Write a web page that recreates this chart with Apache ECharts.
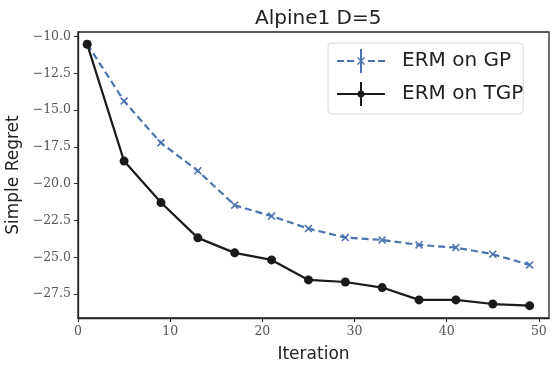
<!DOCTYPE html>
<html>
<head>
<meta charset="utf-8">
<script src="https://cdn.jsdelivr.net/npm/echarts@6/dist/echarts.min.js"></script>
<style>
  html, body { margin: 0; padding: 0; background: #fff; }
  #chart { width: 557px; height: 372px; }
</style>
</head>
<body>
<div id="chart"></div>
<script>
// data
var iterations = [1, 5, 9, 13, 17, 21, 25, 29, 33, 37, 41, 45, 49];
var ermGP = [-10.5, -14.38, -17.22, -19.12, -21.46, -22.2, -23.05, -23.66, -23.82, -24.16, -24.34, -24.79, -25.52];
var ermTGP = [-10.52, -18.46, -21.28, -23.68, -24.7, -25.18, -26.54, -26.68, -27.06, -27.9, -27.9, -28.18, -28.29];
var xTicks = [0, 10, 20, 30, 40, 50];
var yTicks = [-27.5, -25, -22.5, -20, -17.5, -15, -12.5, -10];

var blue = '#4c72b0';
var dark = '#1a1a1a';
var serif = '"DejaVu Serif", "Liberation Serif", serif';
var sans = '"DejaVu Sans", sans-serif';

function pairs(xs, ys) {
    return xs.map(function (x, i) { return [x, ys[i]]; });
}
function minus(s) { return String(s).replace('-', '\u2212'); }

var xSymbol = 'path://M0,1.4 L1.4,0 L10,8.6 L8.6,10 Z M8.6,0 L10,1.4 L1.4,10 L0,8.6 Z';
// legend icons: line + errorbar tick + marker
var gpIcon = 'path://M0,11 L7,11 L7,13 L0,13 Z M10,11 L17,11 L17,13 L10,13 Z ' +
    'M31,11 L38,11 L38,13 L31,13 Z M41,11 L48,11 L48,13 L41,13 Z ' +
    'M23,0 L25,0 L25,24 L23,24 Z M20,9 L21,8 L28,15 L27,16 Z M27,8 L28,9 L21,16 L20,15 Z';
var tgpIcon = 'path://M0,11 L48,11 L48,13 L0,13 Z M23,0 L25,0 L25,24 L23,24 Z ' +
    'M24,8.5 A3.5,3.5 0 1 1 23.99,8.5 Z';

var myChart = echarts.init(document.getElementById('chart'));
var option = {
    animation: false,
    backgroundColor: '#fff',
    title: {
        text: 'Alpine1 D=5',
        left: 250,
        top: 4,
        textStyle: { fontFamily: sans, fontSize: 20, fontWeight: 'normal', color: '#222' }
    },
    legend: {
        left: 328,
        top: 43,
        orient: 'vertical',
        itemWidth: 48,
        itemHeight: 24,
        itemGap: 9,
        padding: [6, 0, 8, 9],
        borderColor: '#d8d8d8',
        borderWidth: 1,
        borderRadius: 4,
        backgroundColor: 'rgba(255,255,255,0.8)',
        textStyle: { fontFamily: sans, fontSize: 20, color: '#222', padding: [0, 0, 0, 12] },
        itemStyle: { borderWidth: 0 },
        data: [
            { name: 'ERM on GP', icon: gpIcon },
            { name: 'ERM on TGP', icon: tgpIcon }
        ]
    },
    grid: {
        left: 78,
        right: 8,
        top: 32,
        bottom: 54,
        outerBoundsMode: 'none',
        show: true,
        borderColor: '#222',
        borderWidth: 1.3
    },
    xAxis: {
        type: 'value',
        min: 0,
        max: 51.1,
        name: 'Iteration',
        nameLocation: 'middle',
        nameGap: 28,
        nameTextStyle: { fontFamily: sans, fontSize: 17, color: '#222' },
        splitLine: { show: false },
        axisLine: { show: true, lineStyle: { color: '#222', width: 1.3 } },
        axisTick: { show: true, length: 4, customValues: xTicks, lineStyle: { color: '#222' } },
        axisLabel: {
            customValues: xTicks,
            fontFamily: serif, fontSize: 12.5, color: '#555', margin: 7
        }
    },
    yAxis: {
        type: 'value',
        min: -29.13,
        max: -9.68,
        name: 'Simple Regret',
        nameLocation: 'middle',
        nameGap: 46,
        nameTextStyle: { fontFamily: sans, fontSize: 17, color: '#222' },
        splitLine: { show: false },
        axisLine: { show: true, lineStyle: { color: '#222', width: 1.3 } },
        axisTick: { show: true, length: 4, customValues: yTicks, lineStyle: { color: '#222' } },
        axisLabel: {
            customValues: yTicks,
            fontFamily: serif, fontSize: 12.5, color: '#555', margin: 7,
            formatter: function (v) { return minus(v.toFixed(1)); }
        }
    },
    series: [{
        name: 'ERM on GP',
        type: 'line',
        data: pairs(iterations, ermGP),
        symbol: xSymbol,
        symbolSize: 8,
        itemStyle: { color: blue },
        lineStyle: { color: blue, width: 2.2, type: [7, 4] },
        z: 2
    }, {
        name: 'ERM on TGP',
        type: 'line',
        data: pairs(iterations, ermTGP),
        symbol: 'circle',
        symbolSize: 9,
        itemStyle: { color: dark },
        lineStyle: { color: dark, width: 2.2 },
        z: 3
    }]
};
myChart.setOption(option);
</script>
</body>
</html>
